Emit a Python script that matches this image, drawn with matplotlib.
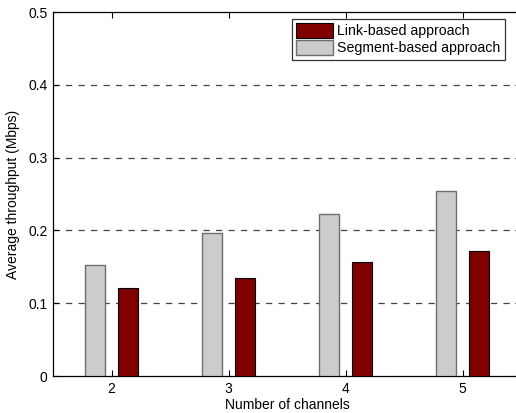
import matplotlib.pyplot as plt
import numpy as np

plt.rcParams["font.family"] = ["Liberation Sans", "DejaVu Sans"]

channels = [2, 3, 4, 5]
segment_based = [0.152, 0.197, 0.223, 0.254]
link_based = [0.121, 0.135, 0.156, 0.172]

y_ticks = [0, 0.1, 0.2, 0.3, 0.4, 0.5]
y_tick_labels = ["0", "0.1", "0.2", "0.3", "0.4", "0.5"]

fig = plt.figure(figsize=(5.16, 4.13), dpi=100)
# axes run slightly past the right edge of the figure
ax = fig.add_axes([53 / 516, 1 - 376 / 413, 468 / 516, 364 / 413])

x = np.array(channels, dtype=float)
width = 0.175
offset = 0.14

ax.bar(x - offset, segment_based, width, color="#cccccc",
       edgecolor="#6e6e6e", linewidth=1.0, zorder=3,
       label="Segment-based approach")
ax.bar(x + offset, link_based, width, color="#800000",
       edgecolor="black", linewidth=0.8, zorder=3,
       label="Link-based approach")

ax.set_xlim(1.5, 5.5)
ax.set_ylim(0, 0.5)
ax.set_xticks(channels)
ax.set_yticks(y_ticks)
ax.set_yticklabels(y_tick_labels)

for y in y_ticks[1:-1]:
    ax.axhline(y, color="#444444", linewidth=0.9, linestyle=(0, (5, 5)),
               zorder=1)

ax.tick_params(direction="in", length=4, width=0.8, labelsize=10,
               top=True, right=True, pad=4, colors="black")
for s in ax.spines.values():
    s.set_linewidth(0.9)

ax.set_xlabel("Number of channels", fontsize=10, labelpad=2)
ax.set_ylabel("Average throughput (Mbps)", fontsize=10, labelpad=6)

handles, labels = ax.get_legend_handles_labels()
leg = ax.legend(handles[::-1], labels[::-1], loc="upper left",
                bbox_to_anchor=(239 / 468, 1 - 6.5 / 364), fontsize=10.2,
                frameon=True, fancybox=False, edgecolor="black",
                borderpad=0.3, labelspacing=0.12, handlelength=2.6,
                handleheight=1.3, handletextpad=0.3, borderaxespad=0)
leg.get_frame().set_linewidth(0.9)

fig.savefig("out.png", dpi=100)
